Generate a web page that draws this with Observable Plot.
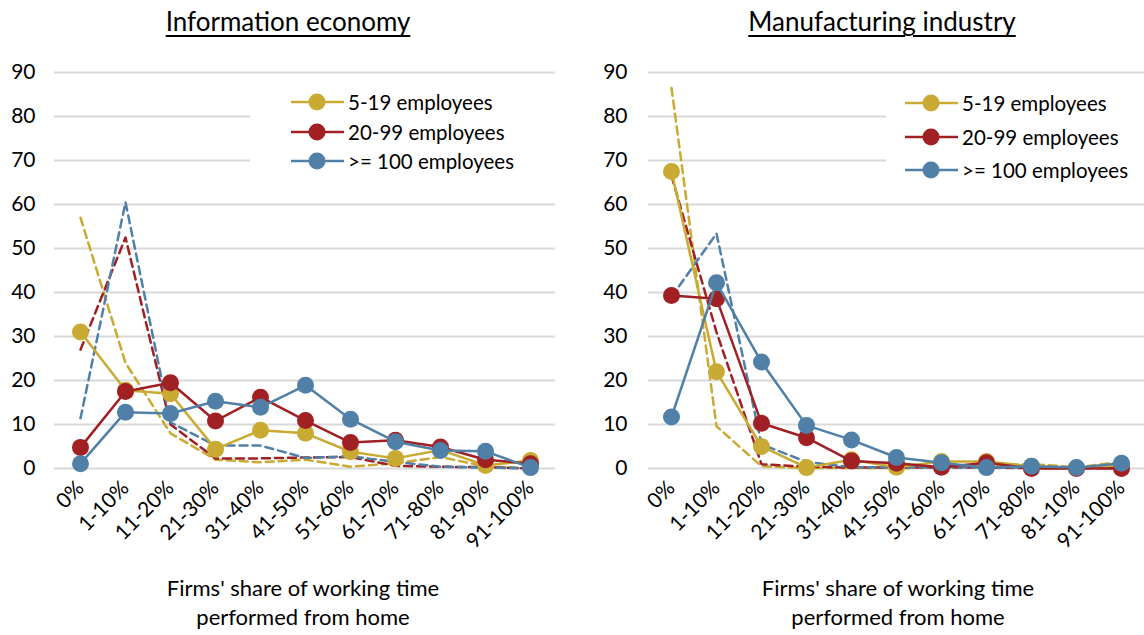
<!DOCTYPE html>
<html><head><meta charset="utf-8">
<script src="https://cdn.jsdelivr.net/npm/d3@7"></script>
<script src="https://cdn.jsdelivr.net/npm/@observablehq/plot@0.6"></script>
<style>
body{margin:0;background:#fff;font-family:Lato,"Open Sans",sans-serif;color:#000;}
#wrap{position:relative;width:1144px;height:635px;overflow:hidden;}
.title{position:absolute;font-size:26px;line-height:30px;text-decoration:underline;text-decoration-thickness:1.5px;text-underline-offset:4px;white-space:nowrap;transform:translateX(-50%);}
.xlabel{position:absolute;font-size:22px;line-height:29px;text-align:center;transform:translateX(-50%);white-space:nowrap;}
.legend{position:absolute;background:#fff;}
.item{position:absolute;height:24px;display:flex;align-items:center;font-size:20.5px;white-space:nowrap;}
.item svg{margin-right:4px;}
.panel{position:absolute;top:50px;}
</style></head><body><div id="wrap"></div>
<script>
// ---- data ----
const categoriesInfo = ["0%","1-10%","11-20%","21-30%","31-40%","41-50%","51-60%","61-70%","71-80%","81-90%","91-100%"];
const categoriesManu = ["0%","1-10%","11-20%","21-30%","31-40%","41-50%","51-60%","61-70%","71-80%","81-10%","91-100%"];
const seriesNames = ["5-19 employees","20-99 employees",">= 100 employees"];
const seriesColors = ["#C9AA32","#A02023","#507FA7"];
const yTicks = [0,10,20,30,40,50,60,70,80,90];
const panelTitles = ["Information economy","Manufacturing industry"];
const xTitleLines = ["Firms' share of working time","performed from home"];

// Information economy (solid lines with markers)
const info_5_19   = [31, 17.8, 17, 4.4, 8.7, 8, 3.8, 2.3, 4.2, 0.7, 1.8];
const info_20_99  = [4.8, 17.5, 19.5, 10.8, 16.2, 10.9, 5.9, 6.4, 4.9, 2, 1.1];
const info_100    = [1.1, 12.8, 12.5, 15.3, 13.9, 18.9, 11.2, 6.1, 4.1, 3.9, 0.2];
// Information economy (dashed lines)
const info_5_19_d  = [57, 24, 8, 2, 1.4, 2, 0.4, 1.2, 2.6, 0.5, 0];
const info_20_99_d = [27, 52.5, 10, 2.3, 2.3, 2.5, 2.6, 0.6, 0.4, 0.3, 0];
const info_100_d   = [11.4, 60.5, 10.5, 5.2, 5.2, 2.4, 2.8, 1.5, 0.4, 0.2, 0];

// Manufacturing industry (solid lines with markers)
const manu_5_19   = [67.5, 22, 5, 0.2, 2, 0.3, 1.6, 1.6, 0.5, 0.1, 0.8];
const manu_20_99  = [39.3, 38.6, 10.3, 7, 1.7, 1.2, 0.3, 1.3, 0, 0, 0];
const manu_100    = [11.7, 42.2, 24.2, 9.8, 6.5, 2.5, 1.3, 0.2, 0.5, 0.2, 1.2];
// Manufacturing industry (dashed lines)
const manu_5_19_d  = [86.5, 9.6, 0.5, 0.1, 0.1, 0.1, 0.3, 0.6, 1, 0.3, 1.5];
const manu_20_99_d = [66.5, 31, 1, 0.4, 0.2, 0.2, 0.2, 0.2, 0.1, 0.1, 0.1];
const manu_100_d   = [39, 53.4, 5.5, 1.5, 0.3, 0.3, 0.3, 0.2, 0.2, 0.1, 0.3];

// ---- build ----
function toRows(cats, arrays){
  return arrays.flatMap((vals, i) => vals.map((v, j) => ({cat: cats[j], value: v, series: seriesNames[i]})));
}
const wrap = document.getElementById("wrap");

function panel(cfg){
  const solid = toRows(cfg.cats, cfg.solid);
  const dashed = toRows(cfg.cats, cfg.dashed);
  const chart = Plot.plot({
    width: 572, height: 500,
    marginTop: 22, marginBottom: 82, marginLeft: cfg.ml, marginRight: cfg.mr,
    x: {type: "point", domain: cfg.cats, padding: 0.5, label: null},
    y: {domain: [0, 90], label: null},
    color: {domain: seriesNames, range: seriesColors},
    style: {fontFamily: "Lato, 'Open Sans', sans-serif", fontSize: "21px", color: "#000", background: "transparent", overflow: "visible"},
    marks: [
      Plot.gridY(yTicks, {stroke: "#d9d9d9", strokeOpacity: 1, strokeWidth: 2}),
      Plot.axisY({ticks: yTicks, tickSize: 0, tickPadding: cfg.tp, fontSize: 21, label: null}),
      Plot.axisX({tickSize: 0, tickRotate: -45, tickPadding: 16, fontSize: 21, label: null}),
      Plot.line(dashed, {x: "cat", y: "value", z: "series", stroke: "series", strokeWidth: 2.5, strokeDasharray: "8,5"}),
      ...seriesNames.flatMap(s => [
        Plot.line(solid, {filter: d => d.series === s, x: "cat", y: "value", stroke: "series", strokeWidth: 2.5}),
        Plot.dot(solid, {filter: d => d.series === s, x: "cat", y: "value", fill: "series", r: 8.5})
      ])
    ]
  });
  chart.classList.add("panel");
  chart.style.left = cfg.left + "px";
  wrap.appendChild(chart);

  const t = document.createElement("div");
  t.className = "title";
  t.textContent = cfg.title;
  t.style.left = cfg.titleX + "px";
  t.style.top = "6px";
  wrap.appendChild(t);

  const xl = document.createElement("div");
  xl.className = "xlabel";
  xl.innerHTML = xTitleLines.join("<br>");
  xl.style.left = cfg.xlabelX + "px";
  xl.style.top = "573px";
  wrap.appendChild(xl);

  const lg = document.createElement("div");
  lg.className = "legend";
  lg.style.left = cfg.lgBox[0] + "px";
  lg.style.top = cfg.lgBox[1] + "px";
  lg.style.width = cfg.lgBox[2] + "px";
  lg.style.height = cfg.lgBox[3] + "px";
  wrap.appendChild(lg);
  seriesNames.forEach((s, i) => {
    const it = document.createElement("div");
    it.className = "item";
    it.style.left = cfg.lgX + "px";
    it.style.top = (cfg.lgRows[i] - 12) + "px";
    it.innerHTML = `<svg width="53" height="20"><line x1="0" y1="10" x2="53" y2="10" stroke="${seriesColors[i]}" stroke-width="2.5"/><circle cx="26" cy="10" r="8.5" fill="${seriesColors[i]}"/></svg><span>${s}</span>`;
    wrap.appendChild(it);
  });
}

panel({cats: categoriesInfo, solid: [info_5_19, info_20_99, info_100], dashed: [info_5_19_d, info_20_99_d, info_100_d],
  left: 0, ml: 54, mr: 17, tp: 19, title: panelTitles[0], titleX: 288, xlabelX: 303,
  lgBox: [250, 84, 305, 98], lgX: 291, lgRows: [102, 132, 161]});
panel({cats: categoriesManu, solid: [manu_5_19, manu_20_99, manu_100], dashed: [manu_5_19_d, manu_20_99_d, manu_100_d],
  left: 572, ml: 76, mr: 0, tp: 21, title: panelTitles[1], titleX: 882, xlabelX: 898,
  lgBox: [886, 84, 258, 102], lgX: 905, lgRows: [103, 137, 170]});
</script></body></html>
